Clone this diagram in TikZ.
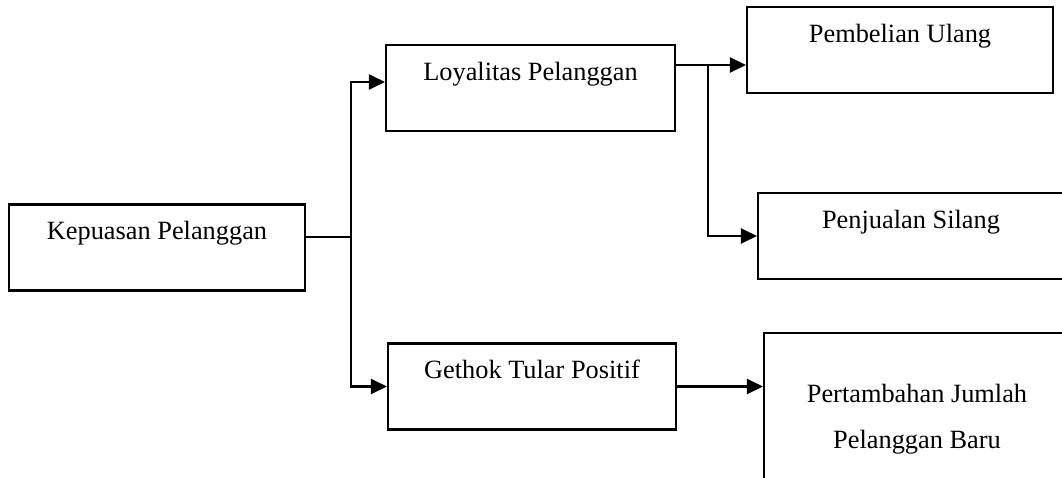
\documentclass[tikz,border=0pt]{standalone}
\usepackage{fontspec}
\setmainfont{Liberation Serif}
\usepackage{xcolor}
\usepackage{tikz}
\usetikzlibrary{arrows.meta, positioning}

\tikzset{
  box/.style={draw, line width=1pt, inner sep=0pt, align=center,
    text height=0.56cm, text depth=0.816cm,
    font=\fontsize{12}{21}\selectfont},
  link/.style={line width=1pt},
  arrowlink/.style={line width=1pt, -{Triangle[length=0.256cm, width=0.24cm]}}
}

\begin{document}
\begin{tikzpicture}[x=0.016cm, y=-0.016cm]
\clip (0,0) rectangle (1062,477);
% boxes
\node[box, minimum width=4.736cm] (kepuasan) at (157,247.5) {Kepuasan Pelanggan};
\node[box, minimum width=4.624cm] (loyalitas) at (530.5,88) {Loyalitas Pelanggan};
\node[box, minimum width=4.608cm] (gethok) at (532,386.5) {Gethok Tular Positif};
\node[box, minimum width=4.896cm] (pembelian) at (900,50) {Pembelian Ulang};
\node[box, minimum width=4.896cm] (penjualan) at (911,236) {Penjualan Silang};
\node[box, minimum width=4.896cm, text height=1.856cm, text depth=0.704cm] (pertambahan) at (917,413)
  {Pertambahan Jumlah\\Pelanggan Baru};

% connectors
\coordinate (fork) at (351,237);
\coordinate (branch) at (708,65);
\draw[link] (kepuasan.east |- fork) -- (fork);
\draw[arrowlink] (fork) |- ([yshift=0.096cm]loyalitas.west);
\draw[arrowlink] (fork) |- (gethok.west);
\draw[arrowlink] (loyalitas.east |- branch) -- (pembelian.west |- branch);
\draw[arrowlink] (branch) |- (penjualan.west);
\draw[arrowlink] (gethok.east) -- (pertambahan.west |- gethok.east);
\end{tikzpicture}
\end{document}
